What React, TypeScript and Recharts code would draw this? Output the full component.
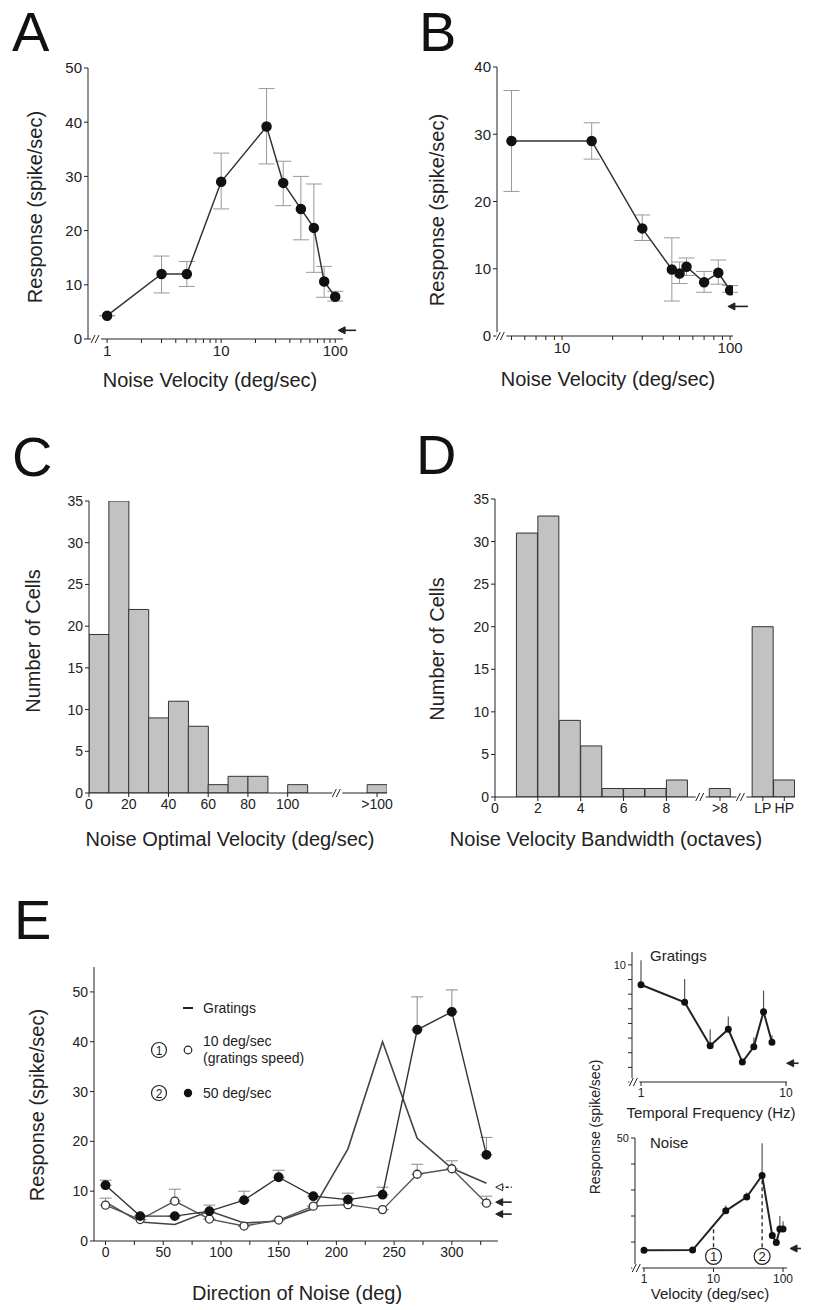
import React from 'react';
import {
  LineChart, Line, XAxis, YAxis, ErrorBar, ReferenceDot, ReferenceLine,
  ComposedChart, Bar,
} from 'recharts';

const FONT = '"Liberation Sans", Arial, Helvetica, sans-serif';
const INK = '#222';

// ---- A: response vs noise velocity
const aVelocity = [1, 3, 5, 10, 25, 35, 50, 65, 80, 100];
const aResponse = [4.3, 12, 12, 29, 39.2, 28.8, 24, 20.5, 10.6, 7.8];
const aLow = [4.3, 8.5, 9.7, 24, 32.3, 24.6, 18.3, 12.3, 7.7, 7];
const aHigh = [4.3, 15.3, 14.3, 34.3, 46.2, 32.8, 30, 28.6, 13.4, 8.8];
const aSpont = 1.6;

// ---- B
const bVelocity = [5, 15, 30, 45, 50, 55, 70, 85, 100];
const bResponse = [29, 29, 16, 9.9, 9.3, 10.3, 8, 9.4, 6.8];
const bLow = [21.5, 26.3, 14.2, 5.2, 7.8, 9, 6.5, 7.7, 6.5];
const bHigh = [36.5, 31.7, 18, 14.6, 11, 11.6, 9.6, 11.3, 7.5];
const bSpont = 4.4;

// ---- C: optimal velocity histogram (10 deg/sec bins, last bin is >100)
const cBinMid = [5, 15, 25, 35, 45, 55, 65, 75, 85, 95, 105, 115, 125, 135, 145];
const cCounts = [19, 35, 22, 9, 11, 8, 1, 2, 2, 0, 1, 0, 0, 0, 1];
const cTicks = [0, 20, 40, 60, 80, 100, 145];
const cTickLabels = ['0', '20', '40', '60', '80', '100', '>100'];
const cBreaks = [125];

// ---- D: bandwidth histogram (octaves, then >8, LP, HP)
const dBinMid = [0.5, 1.5, 2.5, 3.5, 4.5, 5.5, 6.5, 7.5, 8.5, 9.5, 10.5, 11.5, 12.5, 13.5];
const dCounts = [0, 31, 33, 9, 6, 1, 1, 1, 2, 0, 1, 0, 20, 2];
const dTicks = [0, 2, 4, 6, 8, 10.5, 12.5, 13.5];
const dTickLabels = ['0', '2', '4', '6', '8', '>8', 'LP', 'HP'];
const dBreaks = [9.6, 11.5];

// ---- E: direction tuning
const eDirection = [0, 30, 60, 90, 120, 150, 180, 210, 240, 270, 300, 330];
const eGratings = [7.8, 3.8, 3.3, 6, 3.6, 4, 6.5, 18.5, 40, 20.6, 14.6, 11.6];
const eSlow = [7.2, 4.3, 8, 4.4, 3, 4.2, 7, 7.3, 6.3, 13.4, 14.5, 7.6];
const eSlowUp = [8.6, 4.3, 10.4, 4.4, 3, 4.2, 7, 7.3, 6.3, 15.4, 16.1, 9];
const eFast = [11.2, 5, 5, 6, 8.2, 12.8, 9, 8.3, 9.3, 42.4, 46, 17.3];
const eFastUp = [12.2, 5, 5, 7.2, 10, 14.2, 9, 9.6, 10.8, 49, 50.4, 20.8];
const eSpontGratings = 10.8;
const eSpontNoise = [7.8, 5.4];

// ---- E insets
const gFreq = [1, 2, 3, 4, 5, 6, 7, 8];
const gResp = [8.3, 6.8, 3.1, 4.5, 1.7, 3.0, 6.0, 3.4];
const gUp = [10.4, 8.8, 4.5, 5.6, 1.7, 3.8, 7.8, 4.0];
const gSpont = 1.6;

const nVel = [1, 5, 15, 30, 50, 70, 80, 90, 100];
const nResp = [6.8, 6.9, 22, 27.3, 35.6, 12.5, 9.8, 15, 15];
const nUp = [6.8, 6.9, 24, 29, 48, 12.5, 9.8, 20, 18];
const nSpont = 7.5;
const nMarkVel = [10, 50];
const nMarkTop = [16.3, 35.6];
const nMarkLabel = ['1', '2'];

const aRows = aVelocity.map((v, i) => ({ v, r: aResponse[i], err: [aResponse[i] - aLow[i], aHigh[i] - aResponse[i]] }));
const bRows = bVelocity.map((v, i) => ({ v, r: bResponse[i], err: [bResponse[i] - bLow[i], bHigh[i] - bResponse[i]] }));
const cRows = cBinMid.map((m, i) => ({ m, n: cCounts[i] }));
const dRows = dBinMid.map((m, i) => ({ m, n: dCounts[i] }));
const eRows = eDirection.map((d, i) => ({
  d, grat: eGratings[i],
  slow: eSlow[i], slowErr: [0, eSlowUp[i] - eSlow[i]],
  fast: eFast[i], fastErr: [0, eFastUp[i] - eFast[i]],
}));
const gRows = gFreq.map((f, i) => ({ f, r: gResp[i], err: [0, gUp[i] - gResp[i]] }));
const nRows = nVel.map((v, i) => ({ v, r: nResp[i], err: [0, nUp[i] - nResp[i]] }));

const logTicks = (from: number, to: number) => {
  const out: number[] = [];
  for (let d = 1; d <= 100; d *= 10) for (let k = 1; k < 10; k++) { const t = k * d; if (t >= from && t <= to) out.push(t); }
  return out;
};
const decadeOnly = (v: number) => ([1, 10, 100].includes(v) ? String(v) : '');

// chart frame around a plot box given in page pixels
const YW = 44, XH = 28, MT = 10, MR = 30;
function frame(l: number, t: number, r: number, b: number) {
  return {
    style: { position: 'absolute' as const, left: l - YW, top: t - MT },
    width: r - l + YW + MR,
    height: b - t + MT + XH,
    margin: { top: MT, right: MR, bottom: 0, left: 0 },
  };
}

const axisProps = (fs: number) => ({
  stroke: INK,
  tick: { fontSize: fs, fill: INK, fontFamily: FONT },
  tickSize: 4,
  tickMargin: 2,
  allowDataOverflow: true,
  interval: 0 as const,
});

const Arrow = ({ cx, cy, len = 18, open = false }: any) => (
  <g>
    <line x1={cx + 5} y1={cy} x2={cx + len} y2={cy} stroke={INK} strokeWidth={1.6} strokeDasharray={open ? '3 2' : undefined} />
    <polygon points={`${cx},${cy} ${cx + 7},${cy - 3.5} ${cx + 7},${cy + 3.5}`} fill={open ? '#fff' : INK} stroke={INK} strokeWidth={1} />
  </g>
);

const Break = ({ cx, cy }: any) => (
  <g>
    <rect x={cx - 5} y={cy - 4} width={10} height={8} fill="#fff" />
    <line x1={cx - 5} y1={cy + 4} x2={cx - 1} y2={cy - 4} stroke={INK} />
    <line x1={cx - 1} y1={cy + 4} x2={cx + 3} y2={cy - 4} stroke={INK} />
  </g>
);

const Circled = ({ cx, cy, label }: any) => (
  <g>
    <circle cx={cx} cy={cy} r={8} fill="#fff" stroke={INK} strokeWidth={1.2} />
    <text x={cx} y={cy + 4.5} textAnchor="middle" fontSize={13} fontFamily={FONT} fill={INK}>{label}</text>
  </g>
);

const Text = ({ x, y, size, children, rotate, left }: any) => (
  <div style={{
    position: 'absolute', left: x, top: y, fontSize: size, fontFamily: FONT, color: INK,
    whiteSpace: 'nowrap', lineHeight: 1,
    transform: left ? 'translate(0,-50%)' : `translate(-50%,-50%)${rotate ? ' rotate(-90deg)' : ''}`,
  }}>{children}</div>
);

const Letter = ({ x, base, children }: any) => (
  <div style={{ position: 'absolute', left: x, top: base - 0.83 * 56, fontSize: 56, lineHeight: 1, fontFamily: FONT, color: '#111' }}>{children}</div>
);

const PanelA = () => (
  <LineChart {...frame(88, 68, 343, 341)} data={aRows}>
    <XAxis dataKey="v" type="number" scale="log" domain={[0.68, 117]} ticks={logTicks(1, 100)} tickFormatter={decadeOnly} {...axisProps(15)} />
    <YAxis type="number" domain={[0, 50]} ticks={[0, 10, 20, 30, 40, 50]} width={YW} {...axisProps(15)} />
    <Line dataKey="r" stroke="#333" strokeWidth={1.5} dot={{ r: 4.5, fill: '#111', stroke: '#111' }} isAnimationActive={false}>
      <ErrorBar dataKey="err" width={8} stroke="#999" strokeWidth={1} />
    </Line>
    <ReferenceDot x={106} y={aSpont} r={0} ifOverflow="visible" shape={(p: any) => <Arrow cx={p.cx} cy={p.cy} />} />
    <ReferenceDot x={0.8} y={0} r={0} ifOverflow="visible" shape={(p: any) => <Break cx={p.cx} cy={p.cy} />} />
  </LineChart>
);

const PanelB = () => (
  <LineChart {...frame(497, 67, 733, 338)} data={bRows}>
    <XAxis dataKey="v" type="number" scale="log" domain={[4.1, 104]} ticks={logTicks(5, 100)} tickFormatter={decadeOnly} {...axisProps(15)} />
    <YAxis type="number" domain={[0, 40]} ticks={[0, 10, 20, 30, 40]} width={YW} {...axisProps(15)} />
    <Line dataKey="r" stroke="#333" strokeWidth={1.5} dot={{ r: 4.5, fill: '#111', stroke: '#111' }} isAnimationActive={false}>
      <ErrorBar dataKey="err" width={8} stroke="#999" strokeWidth={1} />
    </Line>
    <ReferenceDot x={97} y={bSpont} r={0} ifOverflow="visible" shape={(p: any) => <Arrow cx={p.cx} cy={p.cy} len={20} />} />
    <ReferenceDot x={4.35} y={0} r={0} ifOverflow="visible" shape={(p: any) => <Break cx={p.cx} cy={p.cy} />} />
  </LineChart>
);

const Histogram = ({ box, rows, max, ticks, labels, breaks }: any) => (
  <ComposedChart {...frame(box[0], box[1], box[2], box[3])} data={rows} barCategoryGap={0} barGap={0}>
    <XAxis dataKey="m" type="number" domain={[0, max]} ticks={ticks} height={XH}
      tickFormatter={(v: number) => labels[ticks.indexOf(v)]} {...axisProps(14)} />
    <YAxis type="number" domain={[0, 35]} ticks={[0, 5, 10, 15, 20, 25, 30, 35]} width={YW} {...axisProps(14)} />
    <Bar dataKey="n" fill="#c2c2c2" stroke="#333" strokeWidth={1} isAnimationActive={false} />
    {breaks.map((x: number) => (
      <ReferenceDot key={x} x={x} y={0} r={0} ifOverflow="visible" shape={(p: any) => <Break cx={p.cx} cy={p.cy} />} />
    ))}
  </ComposedChart>
);

const PanelE = () => (
  <LineChart {...frame(94, 967, 498, 1243)} data={eRows}>
    <XAxis dataKey="d" type="number" domain={[-10, 340]} ticks={[0, 25, 50, 75, 100, 125, 150, 175, 200, 225, 250, 275, 300, 325]}
      tickFormatter={(v: number) => (v % 50 === 0 ? String(v) : '')} {...axisProps(14)} />
    <YAxis type="number" domain={[0, 55]} ticks={[0, 10, 20, 30, 40, 50]} width={YW} {...axisProps(14)} />
    <Line dataKey="grat" stroke="#444" strokeWidth={1.6} dot={false} isAnimationActive={false} />
    <Line dataKey="slow" stroke="#555" strokeWidth={1.4} dot={{ r: 4, fill: '#fff', stroke: '#333', strokeWidth: 1.3 }} isAnimationActive={false}>
      <ErrorBar dataKey="slowErr" width={6} stroke="#888" strokeWidth={1} />
    </Line>
    <Line dataKey="fast" stroke="#333" strokeWidth={1.4} dot={{ r: 4.2, fill: '#111', stroke: '#111' }} isAnimationActive={false}>
      <ErrorBar dataKey="fastErr" width={6} stroke="#888" strokeWidth={1} />
    </Line>
    <ReferenceDot x={338} y={eSpontGratings} r={0} ifOverflow="visible" shape={(p: any) => <Arrow cx={p.cx} cy={p.cy} len={16} open />} />
    {eSpontNoise.map((s) => (
      <ReferenceDot key={s} x={338} y={s} r={0} ifOverflow="visible" shape={(p: any) => <Arrow cx={p.cx} cy={p.cy} len={16} />} />
    ))}
  </LineChart>
);

const InsetGratings = () => (
  <LineChart {...frame(632, 952, 787, 1084)} data={gRows}>
    <XAxis dataKey="f" type="number" scale="log" domain={[0.867, 10.16]} ticks={[1, 10]} {...axisProps(12)} />
    <YAxis type="number" domain={[0, 11.1]} ticks={[0, 1.25, 2.5, 3.75, 5, 6.25, 7.5, 8.75, 10]}
      tickFormatter={(v: number) => (v === 10 ? '10' : '')} width={YW} {...axisProps(11)} />
    <Line dataKey="r" stroke="#222" strokeWidth={2} dot={{ r: 2.5, fill: '#111', stroke: '#111' }} isAnimationActive={false}>
      <ErrorBar dataKey="err" width={0} stroke="#555" strokeWidth={1.2} />
    </Line>
    <ReferenceDot x={10.1} y={gSpont} r={0} ifOverflow="visible" shape={(p: any) => <Arrow cx={p.cx} cy={p.cy} len={12} />} />
    <ReferenceDot x={0.9} y={0} r={0} ifOverflow="visible" shape={(p: any) => <Break cx={p.cx} cy={p.cy} />} />
  </LineChart>
);

const InsetNoise = () => (
  <LineChart {...frame(635, 1138, 787, 1270)} data={nRows}>
    <XAxis dataKey="v" type="number" scale="log" domain={[0.742, 114]} ticks={[1, 10, 100]} {...axisProps(12)} />
    <YAxis type="number" domain={[0, 50]} ticks={[0, 10, 20, 30, 40, 50]}
      tickFormatter={(v: number) => (v === 50 ? '50' : '')} width={YW} {...axisProps(11)} />
    {nMarkVel.map((v, i) => (
      <ReferenceLine key={v} segment={[{ x: v, y: 8 }, { x: v, y: nMarkTop[i] }]} stroke="#333" strokeWidth={1.4} strokeDasharray="4 3" />
    ))}
    <Line dataKey="r" stroke="#222" strokeWidth={2} dot={{ r: 2.5, fill: '#111', stroke: '#111' }} isAnimationActive={false}>
      <ErrorBar dataKey="err" width={0} stroke="#555" strokeWidth={1.2} />
    </Line>
    {nMarkVel.map((v, i) => (
      <ReferenceDot key={'c' + v} x={v} y={4.5} r={0} ifOverflow="visible" shape={(p: any) => <Circled cx={p.cx} cy={p.cy} label={nMarkLabel[i]} />} />
    ))}
    <ReferenceDot x={126} y={nSpont} r={0} ifOverflow="visible" shape={(p: any) => <Arrow cx={p.cx} cy={p.cy} len={11} />} />
    <ReferenceDot x={0.8} y={0} r={0} ifOverflow="visible" shape={(p: any) => <Break cx={p.cx} cy={p.cy} />} />
  </LineChart>
);

const LegendE = () => (
  <svg style={{ position: 'absolute', left: 140, top: 995 }} width={170} height={110}>
    <line x1={43} y1={13} x2={53} y2={13} stroke={INK} strokeWidth={2} />
    <text x={63} y={18} fontSize={14} fontFamily={FONT} fill={INK}>Gratings</text>
    <circle cx={19} cy={55} r={7.5} fill="#fff" stroke={INK} strokeWidth={1.2} />
    <text x={19} y={60} fontSize={12} textAnchor="middle" fontFamily={FONT} fill={INK}>1</text>
    <circle cx={48} cy={55} r={3.8} fill="#fff" stroke={INK} strokeWidth={1.2} />
    <text x={63} y={51} fontSize={14} fontFamily={FONT} fill={INK}>10 deg/sec</text>
    <text x={63} y={68} fontSize={14} fontFamily={FONT} fill={INK}>(gratings speed)</text>
    <circle cx={19} cy={98} r={7.5} fill="#fff" stroke={INK} strokeWidth={1.2} />
    <text x={19} y={103} fontSize={12} textAnchor="middle" fontFamily={FONT} fill={INK}>2</text>
    <circle cx={48} cy={98} r={4.2} fill="#111" />
    <text x={63} y={103} fontSize={14} fontFamily={FONT} fill={INK}>50 deg/sec</text>
  </svg>
);

export default function App() {
  return (
    <div style={{ position: 'absolute', left: 0, top: 0, width: 817, height: 1310, background: '#fff', overflow: 'hidden' }}>
      <Letter x={12} base={50}>A</Letter>
      <Letter x={419} base={50}>B</Letter>
      <Letter x={12} base={475}>C</Letter>
      <Letter x={416} base={473}>D</Letter>
      <Letter x={14} base={938}>E</Letter>

      <PanelA />
      <Text x={35} y={207} size={20} rotate>Response (spike/sec)</Text>
      <Text x={210} y={380} size={20}>Noise Velocity (deg/sec)</Text>

      <PanelB />
      <Text x={437} y={210} size={20} rotate>Response (spike/sec)</Text>
      <Text x={608} y={379} size={20}>Noise Velocity (deg/sec)</Text>

      <Histogram box={[89, 501, 387, 793]} rows={cRows} max={150} ticks={cTicks} labels={cTickLabels} breaks={cBreaks} />
      <Text x={33} y={641} size={20} rotate>Number of Cells</Text>
      <Text x={230} y={839} size={20}>Noise Optimal Velocity (deg/sec)</Text>

      <Histogram box={[495, 499, 795, 797]} rows={dRows} max={14} ticks={dTicks} labels={dTickLabels} breaks={dBreaks} />
      <Text x={437} y={649} size={20} rotate>Number of Cells</Text>
      <Text x={606} y={839} size={20}>Noise Velocity Bandwidth (octaves)</Text>

      <PanelE />
      <LegendE />
      <Text x={37} y={1105} size={20} rotate>Response (spike/sec)</Text>
      <Text x={297} y={1293} size={20}>Direction of Noise (deg)</Text>

      <InsetGratings />
      <InsetNoise />
      <Text x={650} y={955} size={15} left>Gratings</Text>
      <Text x={650} y={1142} size={15} left>Noise</Text>
      <Text x={711} y={1112} size={15}>Temporal Frequency (Hz)</Text>
      <Text x={710} y={1293} size={15}>Velocity (deg/sec)</Text>
      <Text x={595} y={1127} size={14} rotate>Response (spike/sec)</Text>
    </div>
  );
}
